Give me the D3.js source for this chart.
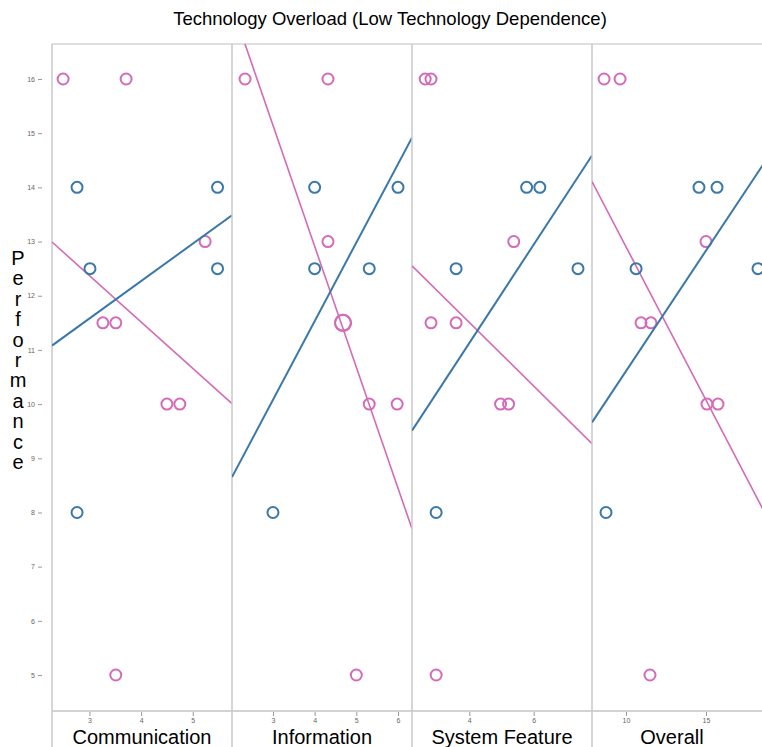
<!DOCTYPE html>
<meta charset="utf-8">
<style>
body { margin: 0; background: #fff; }
svg { font-family: "Liberation Sans", Arial, sans-serif; }
.tick text { font-size: 7px; fill: #666; }
.tick line { stroke: #999; }
</style>
<body>
<script src="https://cdn.jsdelivr.net/npm/d3@7"></script>
<script>

// performance values, same people in every panel
var pinkPerf = [16, 16, 11.5, 11.5, 10, 10, 13, 5];
var bluePerf = [14, 14, 12.5, 12.5, 8];

var panelNames = ["Communication", "Information", "System Feature", "Overall"];

// x values per panel, in the order of the performance arrays
var pinkX = [
  [2.49, 3.71, 3.26, 3.51, 4.5, 4.75, 5.24, 3.51],
  [2.33, 4.32, 4.68, 4.68, 5.31, 5.98, 4.32, 5.0],
  [2.81, 2.63, 2.81, 3.59, 4.97, 5.22, 5.38, 2.97],
  [9.63, 8.63, 10.94, 11.56, 15.06, 15.75, 15.0, 11.5]
];
var blueX = [
  [2.76, 5.48, 3.01, 5.48, 2.76],
  [6.0, 4.0, 4.0, 5.31, 3.0],
  [5.78, 6.19, 3.59, 7.375, 2.97],
  [14.56, 15.69, 10.63, 18.25, 8.75]
];

var xDomains = [[2.275, 5.76], [2.017, 6.336], [2.22, 7.81], [7.875, 19.125]];
var xTicks = [[3, 4, 5], [3, 4, 5, 6], [4, 6], [10, 15]];
var yTicks = [5, 6, 7, 8, 9, 10, 11, 12, 13, 14, 15, 16];

var pink = "#d46bb8", blue = "#3a78aa";

var W = 762, H = 747;
var plotTop = 44, plotBottom = 711, plotLeft = 52, panelW = 180;

var svg = d3.select("body").append("svg")
    .attr("width", W)
    .attr("height", H);

var y = d3.scaleLinear().domain([4.336, 16.646]).range([plotBottom, plotTop]);

svg.append("text")
    .attr("x", 390).attr("y", 25)
    .attr("text-anchor", "middle")
    .style("font-size", "18.5px")
    .text("Technology Overload (Low Technology Dependence)");

// y label, one letter per line
var ylab = "Performance".split("");
svg.selectAll(".ylab")
    .data(ylab)
  .enter().append("text")
    .attr("class", "ylab")
    .attr("x", 18)
    .attr("y", function(d, i) { return 265 + i * 20.4; })
    .attr("text-anchor", "middle")
    .style("font-size", "20px")
    .text(function(d) { return d; });

// frame
svg.append("line").attr("x1", plotLeft).attr("x2", W).attr("y1", plotTop).attr("y2", plotTop)
    .attr("stroke", "#d4d4d4").attr("stroke-width", 1.5);
svg.append("line").attr("x1", plotLeft).attr("x2", W).attr("y1", plotBottom).attr("y2", plotBottom)
    .attr("stroke", "#c4c4c4").attr("stroke-width", 1.5);

svg.append("g")
    .attr("transform", "translate(42,0)")
    .call(d3.axisLeft(y).tickValues(yTicks).tickSize(4).tickPadding(3).tickFormat(d3.format("d")))
    .call(function(g) { g.select(".domain").remove(); });

function ols(xs, ys) {
  var mx = d3.mean(xs), my = d3.mean(ys), sxy = 0, sxx = 0;
  xs.forEach(function(x, i) { sxy += (x - mx) * (ys[i] - my); sxx += (x - mx) * (x - mx); });
  var b = sxy / sxx;
  return { slope: b, intercept: my - b * mx };
}

panelNames.forEach(function(name, p) {
  var x0 = plotLeft + p * panelW, x1 = x0 + panelW;
  var x = d3.scaleLinear().domain(xDomains[p]).range([x0, x1]);

  svg.append("clipPath").attr("id", "clip" + p)
    .append("rect").attr("x", x0).attr("y", plotTop).attr("width", panelW).attr("height", plotBottom - plotTop);

  svg.append("line")
      .attr("x1", x0).attr("x2", x0).attr("y1", plotTop).attr("y2", H)
      .attr("stroke", "#c8c8c8").attr("stroke-width", 1.5);

  svg.append("g")
      .attr("transform", "translate(0," + (plotBottom + 1) + ")")
      .call(d3.axisBottom(x).tickValues(xTicks[p]).tickSize(4).tickPadding(2).tickFormat(d3.format("d")))
      .call(function(g) { g.select(".domain").remove(); });

  svg.append("text")
      .attr("x", (x0 + Math.min(x1, W - 10)) / 2)
      .attr("y", 744)
      .attr("text-anchor", "middle")
      .style("font-size", "20px")
      .text(name);

  var series = [
    { xs: pinkX[p], ys: pinkPerf, color: pink, lw: 1.6 },
    { xs: blueX[p], ys: bluePerf, color: blue, lw: 2 }
  ];

  var g = svg.append("g").attr("clip-path", "url(#clip" + p + ")");

  series.forEach(function(s) {
    var fit = ols(s.xs, s.ys);
    var d = xDomains[p];
    g.append("line")
        .attr("x1", x(d[0])).attr("y1", y(fit.intercept + fit.slope * d[0]))
        .attr("x2", x(d[1])).attr("y2", y(fit.intercept + fit.slope * d[1]))
        .attr("stroke", s.color).attr("stroke-width", s.lw);

    var pts = s.xs.map(function(v, i) { return { x: v, y: s.ys[i] }; });
    var counts = d3.rollup(pts, function(v) { return v.length; }, function(d) { return d.x + "|" + d.y; });
    g.selectAll(null)
        .data(pts)
      .enter().append("circle")
        .attr("cx", function(d) { return x(d.x); })
        .attr("cy", function(d) { return y(d.y); })
        .attr("r", function(d) { return 5.5 + (counts.get(d.x + "|" + d.y) - 1) * 2.5; })
        .attr("fill", "none")
        .attr("stroke", s.color)
        .attr("stroke-width", 2);
  });
});

</script>
</body>
